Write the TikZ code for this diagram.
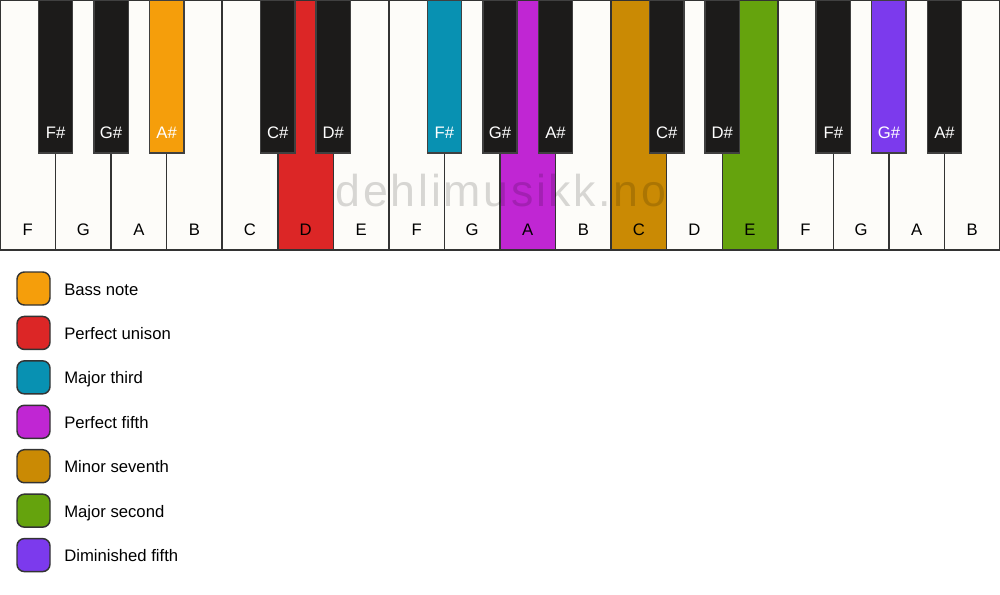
\documentclass[tikz,border=0pt]{standalone}
\usepackage{fontspec}
\setmainfont{Liberation Sans}
\newfontfamily\markfont[LetterSpace=6]{Liberation Sans}
\definecolor{ivory}{HTML}{FDFCF9}
\definecolor{keyblack}{HTML}{1C1B1A}
\definecolor{keyline}{HTML}{333333}
\definecolor{bassnote}{HTML}{F59E0B}
\definecolor{unison}{HTML}{DC2626}
\definecolor{third}{HTML}{0891B2}
\definecolor{fifth}{HTML}{C026D3}
\definecolor{seventh}{HTML}{CA8A04}
\definecolor{second}{HTML}{65A30D}
\definecolor{dimfifth}{HTML}{7C3AED}
\tikzset{
  whitekey/.style={draw=keyline,line width=1.1pt},
  blackkey/.style={draw=black!75,line width=1.1pt},
  swatch/.style={draw=keyline,line width=1.1pt,rounded corners=5.5pt},
  keyname/.style={font=\fontsize{12.5}{15}\selectfont,inner sep=0pt}
}
\begin{document}
\begin{tikzpicture}[x=0.75pt,y=-0.75pt]
\useasboundingbox (0,0) rectangle (1000,594);
% white keys
\foreach \n/\c [count=\i from 0] in {F/ivory,G/ivory,A/ivory,B/ivory,C/ivory,D/unison,E/ivory,
  F/ivory,G/ivory,A/fifth,B/ivory,C/seventh,D/ivory,E/second,F/ivory,G/ivory,A/ivory,B/ivory}
{
\draw[whitekey,fill=\c] (\i*55.556,0) rectangle +(55.556,250);
\node[keyname,anchor=base] (w\i) at (\i*55.556+27.778,235.7) {\n};
}
% black keys
\foreach \b/\n/\c in {1/F\#/keyblack,2/G\#/keyblack,3/A\#/bassnote,5/C\#/keyblack,6/D\#/keyblack,
  8/F\#/third,9/G\#/keyblack,10/A\#/keyblack,12/C\#/keyblack,13/D\#/keyblack,
  15/F\#/keyblack,16/G\#/dimfifth,17/A\#/keyblack}
{
\draw[blackkey,fill=\c] (\b*55.556-17.2,0) rectangle +(34.4,153);
\node[keyname,anchor=base,text=white] (b\b) at (\b*55.556,138.3) {\n};
}
% watermark
\node[anchor=base,text=black,opacity=0.15,inner sep=0pt,
  font=\markfont\fontsize{33.5}{40}\selectfont] (mark) at (501,206.7) {dehlimusikk.no};
% legend
\foreach \c/\t [count=\i from 0] in {bassnote/Bass note,unison/Perfect unison,third/Major third,
  fifth/Perfect fifth,seventh/Minor seventh,second/Major second,dimfifth/Diminished fifth}
{
\draw[swatch,fill=\c] (17,272+\i*44.43) rectangle +(33,33);
\node[keyname,anchor=base west] (l\i) at (64,295+\i*44.43) {\t};
}
\end{tikzpicture}
\end{document}
